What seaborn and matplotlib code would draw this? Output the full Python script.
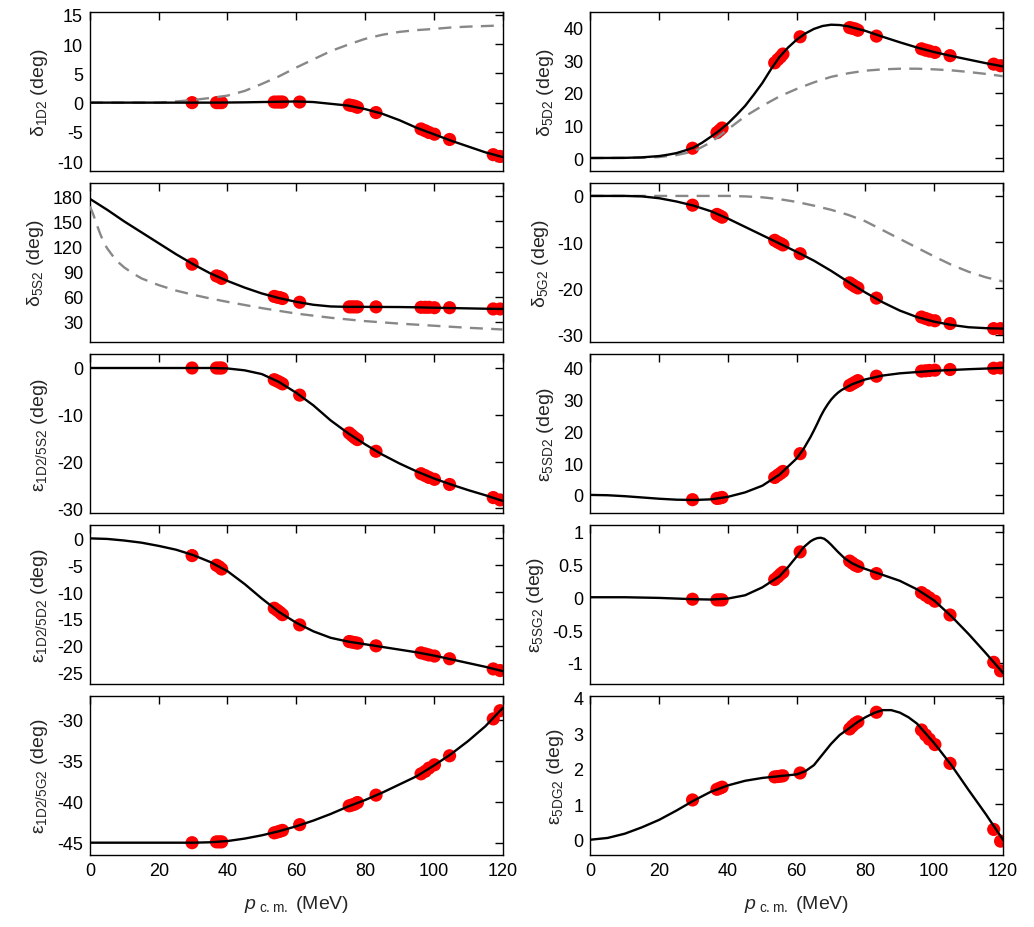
import numpy as np
import pandas as pd
import matplotlib
matplotlib.use('Agg')
import matplotlib.pyplot as plt
import seaborn as sns
from matplotlib import font_manager
from matplotlib.ticker import FormatStrFormatter

sns.set_style('white')

# make sure we get the regular (not Narrow) Liberation Sans
reg = [f for f in font_manager.fontManager.ttflist
       if f.name == 'Liberation Sans' and 'Narrow' not in f.fname
       and f.style == 'normal' and f.weight in (400, 'normal')]
fam = 'Liberation Sans'
if reg:
    fam = font_manager.FontProperties(fname=reg[0].fname).get_name()
plt.rcParams['font.family'] = [fam, 'DejaVu Sans']
plt.rcParams['mathtext.fontset'] = 'custom'
plt.rcParams['mathtext.rm'] = fam
plt.rcParams['mathtext.it'] = fam + ':italic'
plt.rcParams['axes.unicode_minus'] = False

# momenta of the "data" points (MeV), shared by all panels
x_pts = [29.7, 36.8, 37.6, 38.3, 53.6, 54.5, 55.3, 56.0, 61.0, 75.4, 76.2,
         77.0, 77.8, 83.2, 96.3, 97.5, 98.6, 100.2, 104.6, 117.3, 119.3]

# common grid for the smooth curves
grid = [0, 5, 10, 15, 20, 25, 30, 35, 40, 45, 50, 55, 60, 65, 70, 75, 80,
        85, 90, 95, 100, 105, 110, 115, 120]

# delta 1D2
d1D2_pts = [0.0, 0.0, 0.0, 0.0, 0.1, 0.1, 0.1, 0.1, 0.1, -0.4, -0.5, -0.6,
            -0.8, -1.7, -4.5, -4.8, -5.1, -5.4, -6.3, -8.9, -9.2]
d1D2_fit = [0, 0, 0, 0, 0, 0, 0, 0, 0.02, 0.05, 0.1, 0.15, 0.2, 0.1, -0.2,
            -0.5, -1.1, -1.9, -3.0, -4.3, -5.4, -6.5, -7.5, -8.5, -9.3]
d1D2_ref = [0, 0, 0, 0, 0, 0.2, 0.45, 0.8, 1.2, 2.0, 3.2, 4.5, 6.0, 7.4,
            8.8, 9.9, 10.9, 11.6, 12.1, 12.4, 12.6, 12.85, 13.0, 13.1, 13.2]

# delta 5D2
d5D2_pts = [3.0, 7.8, 8.5, 9.2, 29.2, 30.2, 31.0, 31.9, 37.2, 40.0, 39.8,
            39.6, 39.2, 37.4, 33.5, 33.1, 32.8, 32.4, 31.4, 28.8, 28.3]
d5D2_fit_x = [0, 5, 10, 15, 20, 22.5, 25, 27.5, 30, 32.5, 35, 37.5, 40, 42.5,
              45, 47.5, 50, 52.5, 55, 57.5, 60, 62.5, 65, 67.5, 70, 72.5, 75,
              77.5, 80, 85, 90, 95, 100, 105, 110, 115, 120]
d5D2_fit = [0, 0.02, 0.05, 0.2, 0.6, 1.0, 1.5, 2.3, 3.2, 4.7, 6.5, 8.4, 10.6,
            13.2, 16.0, 19.4, 23.0, 27.2, 31.0, 33.9, 36.3, 38.2, 39.6, 40.5,
            40.9, 40.8, 40.4, 39.7, 39.0, 37.2, 35.5, 33.9, 32.5, 31.3, 30.2,
            29.1, 28.1]
d5D2_ref = [0, 0.01, 0.03, 0.1, 0.3, 0.9, 2.0, 4.8, 8.8, 12.8, 16.0, 18.9,
            21.2, 23.2, 24.9, 26.0, 26.8, 27.2, 27.4, 27.4, 27.2, 26.9, 26.4,
            25.8, 25.1]

# delta 5S2
d5S2_pts = [99, 85, 84, 82, 60.5, 59.5, 59, 58, 53.5, 48, 48, 48, 48, 48,
            47.5, 47.5, 47.5, 47, 47, 45.5, 45.5]
d5S2_fit = [177, 164, 150, 137, 124, 111, 99, 88, 79, 71, 64, 58.5, 54,
            50.5, 48.5, 48, 48, 47.9, 47.8, 47.5, 47, 46.6, 46.2, 45.8, 45.5]
d5S2_ref_x = [0, 1, 2, 3, 4, 5, 7.5, 10, 12.5, 15, 20, 25, 30, 35, 40, 50,
              60, 70, 80, 90, 100, 110, 120]
d5S2_ref = [168, 158, 146, 135, 125, 118, 104, 95, 88, 82, 74, 67.5, 62.5,
            58, 54, 46.5, 40, 35, 31, 28, 25.5, 23, 21]

# delta 5G2
d5G2_pts = [-2.0, -4.0, -4.3, -4.6, -9.6, -10.0, -10.3, -10.6, -12.5, -18.8,
            -19.2, -19.6, -19.9, -22.1, -26.2, -26.5, -26.8, -27.0, -27.6,
            -28.7, -28.7]
d5G2_fit = [0, 0, 0, -0.1, -0.5, -1.2, -2.1, -3.3, -4.9, -6.7, -8.5, -10.3,
            -12.1, -14.0, -16.2, -18.6, -20.9, -23.0, -24.8, -26.2, -27.2,
            -27.9, -28.4, -28.6, -28.7]
d5G2_ref = [0, 0, 0, 0, 0, 0, 0, 0, 0, -0.1, -0.3, -0.7, -1.3, -2.1, -3.0,
            -4.1, -5.5, -7.4, -9.3, -11.2, -13.1, -14.9, -16.4, -17.6, -18.5]

# epsilon 1D2/5S2
e1D2_5S2_pts = [0.0, 0.0, 0.0, 0.0, -2.5, -2.8, -3.1, -3.4, -5.8, -13.9,
                -14.4, -14.9, -15.3, -17.8, -22.6, -23.0, -23.4, -23.8, -24.9,
                -27.7, -28.2]
e1D2_5S2_fit = [0, 0, 0, 0, 0, 0, 0, 0, -0.1, -0.5, -1.3, -3.0, -5.3, -8.0,
                -11.2, -13.9, -16.3, -18.5, -20.4, -22.1, -23.6, -24.9, -26.1,
                -27.2, -28.4]

# epsilon 5SD2
e5SD2_pts = [-1.5, -1.1, -1.0, -0.8, 5.5, 6.2, 6.8, 7.4, 13.0, 34.5, 35.0,
             35.5, 36.0, 37.4, 39.0, 39.1, 39.2, 39.3, 39.5, 39.9, 40.0]
e5SD2_fit_x = [0, 5, 10, 15, 20, 25, 30, 35, 40, 45, 50, 55, 60, 62, 64, 65,
               66, 67, 68, 69, 70, 71, 72, 73, 74, 76, 80, 85, 90, 100, 110,
               120]
e5SD2_fit = [0, -0.1, -0.4, -0.8, -1.2, -1.5, -1.6, -1.4, -0.6, 0.8, 2.9,
             6.4, 11.5, 14.5, 18.2, 20.3, 22.5, 24.8, 26.8, 28.5, 30.0, 31.2,
             32.2, 33.0, 33.6, 34.8, 36.4, 37.6, 38.3, 39.1, 39.6, 40.0]

# epsilon 1D2/5D2
e1D2_5D2_pts = [-3.2, -5.0, -5.3, -5.7, -13.0, -13.4, -13.8, -14.2, -16.1,
                -19.2, -19.3, -19.4, -19.5, -20.0, -21.3, -21.5, -21.7, -21.9,
                -22.4, -24.3, -24.6]
e1D2_5D2_fit = [0, -0.1, -0.4, -0.8, -1.4, -2.1, -3.1, -4.4, -6.1, -8.5,
                -11.2, -13.7, -15.7, -17.3, -18.5, -19.2, -19.7, -20.2, -20.7,
                -21.2, -21.8, -22.5, -23.2, -23.9, -24.7]

# epsilon 5SG2
e5SG2_pts = [-0.03, -0.04, -0.04, -0.04, 0.27, 0.31, 0.35, 0.38, 0.69, 0.55,
             0.52, 0.49, 0.47, 0.36, 0.07, 0.03, -0.01, -0.06, -0.27, -0.99,
             -1.12]
e5SG2_fit_x = [0, 10, 20, 30, 35, 40, 45, 50, 55, 57.5, 60, 62, 64, 65, 66,
               67, 68, 69, 70, 72, 74, 76, 78, 80, 85, 90, 95, 100, 105, 110,
               115, 120]
e5SG2_fit = [0, 0, -0.01, -0.03, -0.035, -0.02, 0.03, 0.15, 0.32, 0.46, 0.62,
             0.76, 0.85, 0.88, 0.90, 0.905, 0.89, 0.85, 0.80, 0.69, 0.59,
             0.52, 0.47, 0.43, 0.34, 0.25, 0.12, -0.05, -0.29, -0.56, -0.85,
             -1.15]

# epsilon 1D2/5G2
e1D2_5G2_pts = [-45, -44.9, -44.9, -44.9, -43.8, -43.7, -43.6, -43.5, -42.8,
                -40.5, -40.4, -40.3, -40.1, -39.2, -36.6, -36.3, -35.9, -35.5,
                -34.4, -29.9, -28.9]
e1D2_5G2_fit = [-45, -45, -45, -45, -45, -45, -45, -44.95, -44.8, -44.5,
                -44.1, -43.6, -43.0, -42.3, -41.5, -40.6, -39.8, -38.9, -37.9,
                -36.9, -35.6, -34.2, -32.6, -30.8, -28.6]

# epsilon 5DG2
e5DG2_pts = [1.12, 1.42, 1.45, 1.48, 1.77, 1.78, 1.79, 1.80, 1.88, 3.12, 3.20,
             3.27, 3.32, 3.59, 3.09, 2.95, 2.83, 2.68, 2.15, 0.29, -0.04]
e5DG2_fit_x = [0, 5, 10, 15, 20, 25, 30, 35, 40, 45, 50, 55, 60, 62.5, 65,
               67.5, 70, 72.5, 75, 77.5, 80, 82.5, 85, 87.5, 90, 92.5, 95,
               100, 105, 110, 115, 120]
e5DG2_fit = [0, 0.05, 0.17, 0.35, 0.56, 0.82, 1.1, 1.35, 1.53, 1.66, 1.74,
             1.79, 1.84, 1.93, 2.1, 2.4, 2.7, 2.95, 3.12, 3.3, 3.45, 3.57,
             3.65, 3.65, 3.58, 3.45, 3.27, 2.72, 2.1, 1.4, 0.72, 0.0]

panels = [
    (r'$\mathrm{δ_{1D2}}$ (deg)', d1D2_pts, grid, d1D2_fit, grid, d1D2_ref,
     (-11.7, 15.5), [-10, -5, 0, 5, 10, 15]),
    (r'$\mathrm{δ_{5D2}}$ (deg)', d5D2_pts, d5D2_fit_x, d5D2_fit, grid, d5D2_ref,
     (-4, 44.8), [0, 10, 20, 30, 40]),
    (r'$\mathrm{δ_{5S2}}$ (deg)', d5S2_pts, grid, d5S2_fit, d5S2_ref_x, d5S2_ref,
     (6, 196), [30, 60, 90, 120, 150, 180]),
    (r'$\mathrm{δ_{5G2}}$ (deg)', d5G2_pts, grid, d5G2_fit, grid, d5G2_ref,
     (-31.6, 2.8), [-30, -20, -10, 0]),
    (r'$\mathrm{ε_{1D2/5S2}}$ (deg)', e1D2_5S2_pts, grid, e1D2_5S2_fit, None, None,
     (-31, 3), [-30, -20, -10, 0]),
    (r'$\mathrm{ε_{5SD2}}$ (deg)', e5SD2_pts, e5SD2_fit_x, e5SD2_fit, None, None,
     (-5.7, 44.4), [0, 10, 20, 30, 40]),
    (r'$\mathrm{ε_{1D2/5D2}}$ (deg)', e1D2_5D2_pts, grid, e1D2_5D2_fit, None, None,
     (-27.1, 2.5), [-25, -20, -15, -10, -5, 0]),
    (r'$\mathrm{ε_{5SG2}}$ (deg)', e5SG2_pts, e5SG2_fit_x, e5SG2_fit, None, None,
     (-1.32, 1.1), [-1, -0.5, 0, 0.5, 1]),
    (r'$\mathrm{ε_{1D2/5G2}}$ (deg)', e1D2_5G2_pts, grid, e1D2_5G2_fit, None, None,
     (-46.5, -27.1), [-45, -40, -35, -30]),
    (r'$\mathrm{ε_{5DG2}}$ (deg)', e5DG2_pts, e5DG2_fit_x, e5DG2_fit, None, None,
     (-0.43, 4.05), [0, 1, 2, 3, 4]),
]

fig, axes = plt.subplots(5, 2, figsize=(10.34, 9.28), dpi=100, sharex=True)
fig.subplots_adjust(left=0.087, right=0.970, bottom=0.0776, top=0.986,
                    hspace=0.075, wspace=0.213)

for ax, (label, pts, fx, fy, rx, ry, ylim, yticks) in zip(axes.flat, panels):
    sns.scatterplot(x=x_pts, y=pts, ax=ax, color='#ff0000', s=90,
                    edgecolor='none', zorder=2)
    if rx is not None:
        sns.lineplot(x=rx, y=ry, ax=ax, color='#888888', lw=1.7,
                     linestyle=(0, (5.5, 3.5)), sort=False, estimator=None,
                     zorder=3)
    sns.lineplot(x=fx, y=fy, ax=ax, color='black', lw=1.7, sort=False,
                 estimator=None, zorder=4)
    ax.set_xlim(0, 120)
    ax.set_ylim(*ylim)
    ax.set_xticks([0, 20, 40, 60, 80, 100, 120])
    ax.set_yticks(yticks)
    ax.yaxis.set_major_formatter(FormatStrFormatter('%g'))
    ax.tick_params(direction='in', top=True, right=True, length=6,
                   width=1, labelsize=13, pad=5, colors='black')
    ax.set_ylabel(label, fontsize=14, labelpad=5)
    for sp in ax.spines.values():
        sp.set_visible(True)
        sp.set_color('black')
        sp.set_linewidth(1.0)

for ax in axes[-1]:
    ax.set_xlabel(r'$\mathit{p}_{\mathrm{\ c.m.}}$ (MeV)', fontsize=14,
                  labelpad=10)

fig.savefig('out.png', dpi=100)
